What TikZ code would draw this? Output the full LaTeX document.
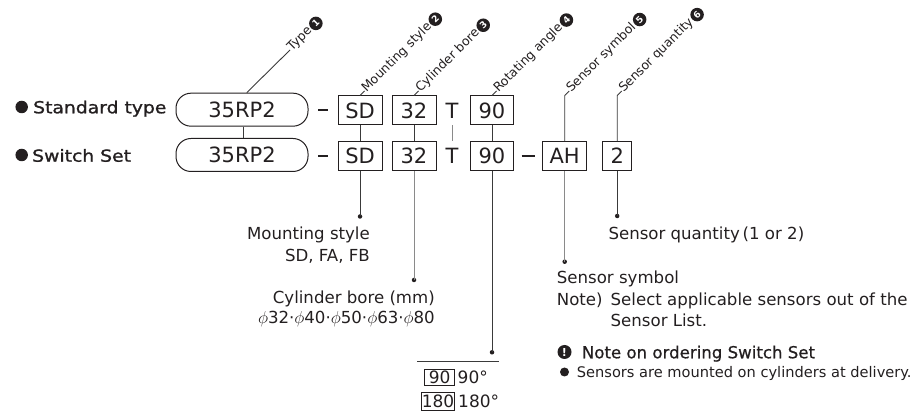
\documentclass[tikz,border=0pt]{standalone}
\usepackage{fontspec}
\setmainfont{DejaVu Sans}
\newfontfamily\medf[FakeBold=1.2,FakeStretch=1.13]{DejaVu Sans}
\newfontfamily\notef[FakeBold=0.7]{DejaVu Sans}
\usetikzlibrary{calc}
\newcommand\fsz[1]{\fontsize{#1}{#1}\selectfont}
\definecolor{ink}{HTML}{231F20}
\definecolor{rulec}{HTML}{3A3A3A}
\definecolor{lightrule}{HTML}{8A8A8A}
\begin{document}
\begin{tikzpicture}[x=1pt,y=-1pt,
  every node/.style={text=ink},
  pill/.style={draw=ink, line width=1pt, rounded corners=15pt, minimum width=132pt, minimum height=33pt, inner sep=0pt, font=\fsz{21}},
  cbox/.style={draw=ink, line width=1pt, minimum width=44pt, minimum height=29pt, inner sep=0pt, font=\fsz{21}},
  plain/.style={minimum height=29pt, inner sep=0pt, font=\fsz{21}},
  dashc/.style={inner sep=0pt, text=ink},
  conn/.style={draw=rulec, line width=0.9pt},
  lconn/.style={draw=lightrule, line width=0.9pt},
  dot/.style={circle, fill=ink, inner sep=0pt, minimum size=4.5pt},
  bul/.style={circle, fill=ink, inner sep=0pt, minimum size=12.5pt},
  rlab/.style={rotate=45, anchor=mid west, inner sep=0pt, font=\fsz{12.5}},
  numc/.style={circle, fill=ink, text=white, inner sep=0pt, minimum size=13.5pt, rotate=45, font=\bfseries\fsz{9}},
  txt/.style={inner sep=0pt, font=\fsz{16.6}},
  tbox/.style={draw=ink, line width=0.8pt, inner sep=0.3pt, font=\fsz{17}, anchor=east},
  ]
\useasboundingbox (0,0) rectangle (919,411);

% row titles
\node[bul] (bs) at (21.7,107) {};
\node[txt, anchor=base west, font=\medf\fsz{16.6}] (ts) at (33,113.3) {Standard type};
\node[bul] (bw) at (21.7,155) {};
\node[txt, anchor=base west, font=\medf\fsz{16.6}] (tw) at (32,161.7) {Switch Set};

% row 1
\node[pill] (p1) at (242,109.7) {35RP2};
\node[dashc] (d1) at (323.3,110) {\color{ink}\rule{10pt}{1.1pt}};
\node[cbox] (sd1) at (360,110.5) {SD};
\node[cbox] (b1) at (414,110.5) {32};
\node[plain] (t1) at (452,110.5) {T};
\node[cbox, minimum width=43pt] (a1) at (492,110.5) {90};

% row 2
\node[pill] (p2) at (242,155) {35RP2};
\node[dashc] (d2) at (323.3,156) {\color{ink}\rule{10pt}{1.1pt}};
\node[cbox] (sd2) at (360,156.2) {SD};
\node[cbox] (b2) at (414,156.2) {32};
\node[plain] (t2) at (452,156.2) {T};
\node[cbox, minimum width=43pt] (a2) at (492,156.2) {90};
\node[dashc] (d3) at (528,156) {\color{ink}\rule{13pt}{1.1pt}};
\node[cbox] (ah) at (564.7,156.2) {AH};
\node[cbox, minimum width=29pt] (q2) at (617.2,156.2) {2};

% connectors between rows
\draw[conn] ($(p1.south)+(1,0)$) -- ($(p2.north)+(1,0)$);
\draw[conn] (sd1) -- (sd2);
\draw[conn] (b1) -- (b2);
\draw[lconn] (t1) -- (t2);
\draw[conn] (a1) -- (a2);

% dots and leaders down
\node[dot] (dsd) at (360,216.5) {};
\node[dot] (db) at (414,280) {};
\node[dot] (da) at (492,352.3) {};
\node[dot] (dah) at (564.7,261.7) {};
\node[dot] (dq) at (617.2,216) {};
\draw[conn] (sd2) -- (dsd.center);
\draw[lconn] (b2) -- (db.center);
\draw[conn] (a2) -- (da.center);
\draw[lconn] (ah) -- (dah.center);
\draw[conn] (q2) -- (dq.center);

% top rotated labels
\coordinate (ty0) at ($(p1.north)+(4.7,0)$);
\coordinate (ty1) at (290,50);
\draw[conn] (ty0) -- (ty1);
\node[rlab] (l1) at (ty1) {Type};
\node[numc] (n1) at ($(l1.east)+(45:8pt)$) {1};

\draw[conn] (sd1.north) -- ++(4.5,-4.5) coordinate (m2);
\node[rlab] (l2) at (m2) {Mounting style};
\node[numc] (n2) at ($(l2.east)+(45:8pt)$) {2};

\draw[conn] (b1.north) -- ++(4.5,-4.5) coordinate (m3);
\node[rlab] (l3) at (m3) {Cylinder bore};
\node[numc] (n3) at ($(l3.east)+(45:8pt)$) {3};

\draw[conn] (a1.north) -- ++(4.5,-4.5) coordinate (m4);
\node[rlab] (l4) at (m4) {Rotating angle};
\node[numc] (n4) at ($(l4.east)+(45:8pt)$) {4};

\draw[conn] (ah.north) -- (ah.north |- sd1.north) -- ++(4.5,-4.5) coordinate (m5);
\node[rlab] (l5) at (m5) {Sensor symbol};
\node[numc] (n5) at ($(l5.east)+(45:8pt)$) {5};

\draw[conn] (q2.north) -- (q2.north |- sd1.north) -- ++(4.5,-4.5) coordinate (m6);
\node[rlab] (l6) at (m6) {Sensor quantity};
\node[numc] (n6) at ($(l6.east)+(45:8pt)$) {6};

% bottom texts
\node[txt, anchor=base east] (ms1) at (370,240) {Mounting style};
\node[txt, anchor=base east] (ms2) at (370,261.7) {SD, FA, FB};
\node[txt, anchor=base east] (cb1) at (435,303.3) {Cylinder bore (mm)};
\node[txt, anchor=base east] (cb2) at (435,323.3) {$\phi$32·$\phi$40·$\phi$50·$\phi$63·$\phi$80};

% rotating angle table
\coordinate (tl) at (417,361.7);
\coordinate (tr) at (499,361.7);
\draw[conn] (tl) -- (tr);
\node[tbox, minimum width=30pt, minimum height=16.4pt] (k90) at (455,377.5) {90};
\node[txt, anchor=base west, font=\fsz{17}] (v90) at (457.5,383.5) {90°};
\node[tbox, minimum width=33pt, minimum height=17.3pt] (k180) at (455,401.3) {180};
\node[txt, anchor=base west, font=\fsz{17}] (v180) at (458,408) {180°};

% sensor texts
\node[txt, anchor=base west] (sq) at (608.3,239.3) {Sensor quantity\,(1 or 2)};
\node[txt, anchor=base west] (ss1) at (556.7,284) {Sensor symbol};
\node[txt, anchor=base west] (ss2) at (556.7,305.5) {Note)};
\node[txt, anchor=base west] (ss3) at (610.5,305.5) {Select applicable sensors out of the};
\node[txt, anchor=base west] (ss4) at (610.5,326.5) {Sensor List.};

% note
\node[circle, fill=ink, inner sep=0pt, minimum size=14pt, text=white, font=\bfseries\fsz{11}] (ic) at (564.5,352) {!};
\node[txt, anchor=base west, font=\notef\fsz{16.6}] (nt) at (581.7,358.3) {Note on ordering Switch Set};
\node[circle, fill=ink, inner sep=0pt, minimum size=9pt] (b3) at (564.5,372) {};
\node[txt, anchor=base west, font=\fsz{14.6}] (nt2) at (576.7,377.7) {Sensors are mounted on cylinders at delivery.};
\end{tikzpicture}
\end{document}
